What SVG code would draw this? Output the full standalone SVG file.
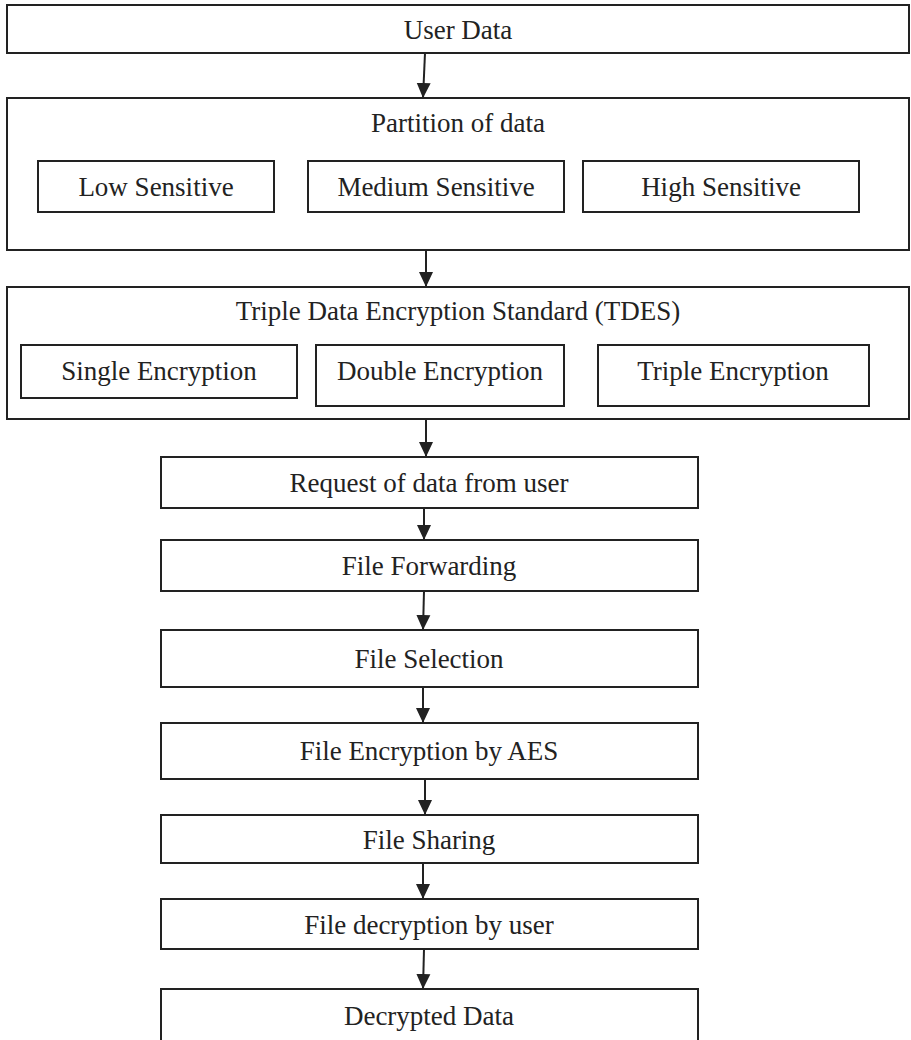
<svg xmlns="http://www.w3.org/2000/svg" width="911" height="1040" viewBox="0 0 911 1040">
<style>
.box{fill:#fff;stroke:#222;stroke-width:2}
.lbl{font-family:"Liberation Serif","Times New Roman",serif;font-size:27px;fill:#222;text-anchor:middle}
.con{stroke:#222;stroke-width:2;fill:none}
</style>
<defs>
<marker id="arr" markerUnits="userSpaceOnUse" markerWidth="16" markerHeight="16" viewBox="0 0 16 16" refX="15" refY="8" orient="auto">
<path d="M0,1 L15,8 L0,15 Z" fill="#222"/>
</marker>
</defs>
<rect width="911" height="1040" fill="#fff"/>
<g id="user-data">
<rect class="box" x="7" y="5" width="902" height="48"/>
<text class="lbl" x="458" y="39">User Data</text>
</g>
<g id="partition">
<rect class="box" x="7" y="98" width="902" height="152"/>
<text class="lbl" x="458" y="132">Partition of data</text>
</g>
<g id="low">
<rect class="box" x="38" y="161" width="236" height="51"/>
<text class="lbl" x="156" y="196">Low Sensitive</text>
</g>
<g id="medium">
<rect class="box" x="308" y="161" width="256" height="51"/>
<text class="lbl" x="436" y="196">Medium Sensitive</text>
</g>
<g id="high">
<rect class="box" x="583" y="161" width="276" height="51"/>
<text class="lbl" x="721" y="196">High Sensitive</text>
</g>
<g id="tdes">
<rect class="box" x="7" y="287" width="902" height="132"/>
<text class="lbl" x="458" y="320">Triple Data Encryption Standard (TDES)</text>
</g>
<g id="single">
<rect class="box" x="21" y="345" width="276" height="53"/>
<text class="lbl" x="159" y="380">Single Encryption</text>
</g>
<g id="double">
<rect class="box" x="316" y="345" width="248" height="61"/>
<text class="lbl" x="440" y="380">Double Encryption</text>
</g>
<g id="triple">
<rect class="box" x="598" y="345" width="271" height="61"/>
<text class="lbl" x="733" y="380">Triple Encryption</text>
</g>
<g id="request">
<rect class="box" x="161" y="457" width="537" height="51"/>
<text class="lbl" x="429" y="492">Request of data from user</text>
</g>
<g id="forwarding">
<rect class="box" x="161" y="540" width="537" height="51"/>
<text class="lbl" x="429" y="575">File Forwarding</text>
</g>
<g id="selection">
<rect class="box" x="161" y="630" width="537" height="57"/>
<text class="lbl" x="429" y="668">File Selection</text>
</g>
<g id="aes">
<rect class="box" x="161" y="723" width="537" height="56"/>
<text class="lbl" x="429" y="760">File Encryption by AES</text>
</g>
<g id="sharing">
<rect class="box" x="161" y="815" width="537" height="48"/>
<text class="lbl" x="429" y="849">File Sharing</text>
</g>
<g id="decryption">
<rect class="box" x="161" y="899" width="537" height="50"/>
<text class="lbl" x="429" y="934">File decryption by user</text>
</g>
<g id="decrypted">
<rect class="box" x="161" y="989" width="537" height="60"/>
<text class="lbl" x="429" y="1025">Decrypted Data</text>
</g>
<g id="connectors">
<line class="con" x1="425" y1="53" x2="423" y2="98" marker-end="url(#arr)"/>
<line class="con" x1="426" y1="250" x2="426" y2="287" marker-end="url(#arr)"/>
<line class="con" x1="426" y1="419" x2="426" y2="457" marker-end="url(#arr)"/>
<line class="con" x1="424" y1="508" x2="424" y2="540" marker-end="url(#arr)"/>
<line class="con" x1="424" y1="591" x2="423" y2="630" marker-end="url(#arr)"/>
<line class="con" x1="423" y1="687" x2="423" y2="723" marker-end="url(#arr)"/>
<line class="con" x1="425" y1="779" x2="425" y2="815" marker-end="url(#arr)"/>
<line class="con" x1="423" y1="863" x2="423" y2="899" marker-end="url(#arr)"/>
<line class="con" x1="424" y1="949" x2="423" y2="989" marker-end="url(#arr)"/>
</g>
</svg>
